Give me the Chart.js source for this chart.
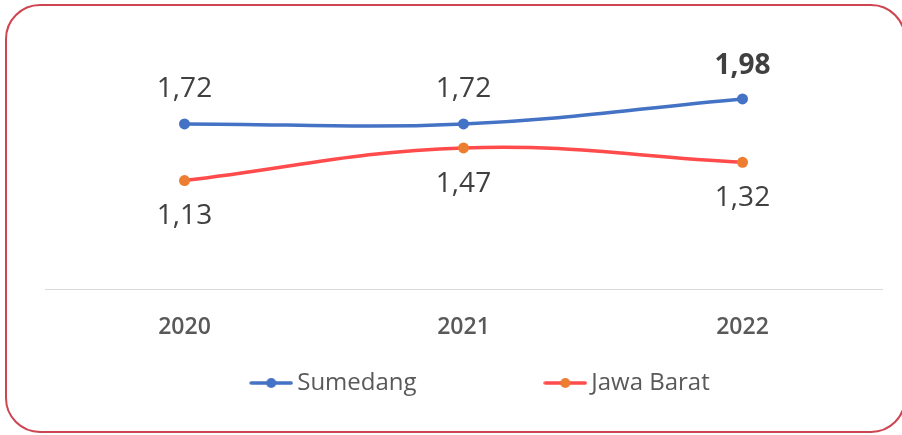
<!DOCTYPE html>
<html>
<head>
<meta charset="utf-8">
<script src="https://cdn.jsdelivr.net/npm/chart.js@4/dist/chart.umd.min.js"></script>
<style>
    html, body { margin: 0; padding: 0; background: #fff; overflow: hidden; }
    body { width: 902px; height: 435px; position: relative; }
    #frame {
        position: absolute; left: 5px; top: 4px;
        width: 901px; height: 429px; box-sizing: border-box;
        border: 2px solid #cf4451; border-radius: 35px;
    }
    #grafico { position: absolute; left: 0; top: 0; }
</style>
</head>
<body>
<div id="frame"></div>
<canvas id="grafico" width="902" height="435"></canvas>
<script>
// dados
const anos = ['2020', '2021', '2022'];
const series = ['Sumedang', 'Jawa Barat'];
const sumedang = [1.72, 1.72, 1.98];
const jawaBarat = [1.13, 1.47, 1.32];

const corAzul = '#4472c4';
const corVermelha = '#ff4b4b';
const corLaranja = '#ed7d31';
const fonte = '"Open Sans", "Noto Sans", sans-serif';

// marcador da legenda: linha com ponto no meio
function marcador(corLinha, corPonto) {
    const c = document.createElement('canvas');
    c.width = 44;
    c.height = 12;
    const g = c.getContext('2d');
    g.strokeStyle = corLinha;
    g.lineWidth = 3.5;
    g.lineCap = 'round';
    g.beginPath();
    g.moveTo(2, 6);
    g.lineTo(42, 6);
    g.stroke();
    g.fillStyle = corPonto;
    g.beginPath();
    g.arc(22, 6, 5, 0, Math.PI * 2);
    g.fill();
    return c;
}

// rótulos dos valores (acima para Sumedang, abaixo para Jawa Barat)
const rotulos = {
    id: 'rotulos',
    afterDatasetsDraw(chart) {
        const ctx = chart.ctx;
        ctx.save();
        ctx.textAlign = 'center';
        ctx.textBaseline = 'middle';
        ctx.fillStyle = '#404040';
        chart.data.datasets.forEach((ds, i) => {
            const meta = chart.getDatasetMeta(i);
            meta.data.forEach((p, j) => {
                const v = ds.data[j];
                const negrito = i === 0 && j === ds.data.length - 1;
                ctx.font = (negrito ? '700 ' : '400 ') + '28px ' + fonte;
                const dy = i === 0 ? (negrito ? -33 : -35) : 36;
                ctx.fillText(v.toFixed(2).replace('.', ','), p.x, p.y + dy);
            });
        });
        ctx.restore();
    }
};

// empurra a legenda um pouco para a direita
const ajusteLegenda = {
    id: 'ajusteLegenda',
    afterLayout(chart) {
        if (chart.legend) chart.legend.left += 40;
    }
};

const espaco = '\u00A0'.repeat(20);

new Chart(document.getElementById('grafico'), {
    type: 'line',
    data: {
        labels: anos,
        datasets: [{
            label: series[0],
            data: sumedang,
            borderColor: corAzul,
            backgroundColor: corAzul,
            pointBackgroundColor: corAzul,
            pointBorderWidth: 0,
            pointRadius: 5.5,
            borderWidth: 3.5,
            tension: 0.4
        }, {
            label: series[1],
            data: jawaBarat,
            borderColor: corVermelha,
            backgroundColor: corLaranja,
            pointBackgroundColor: corLaranja,
            pointBorderWidth: 0,
            pointRadius: 5.5,
            borderWidth: 3.5,
            tension: 0.4
        }]
    },
    options: {
        responsive: false,
        animation: false,
        layout: { padding: { left: 45, right: 20, top: 49, bottom: 30 } },
        scales: {
            x: {
                offset: true,
                grid: { display: false, drawTicks: false },
                border: { display: true, color: '#d9d9d9', width: 1 },
                ticks: { color: '#595959', padding: 25, font: { family: fonte, size: 23, weight: '600' } },
                afterFit(scale) { scale.height = 72; }
            },
            y: {
                display: false,
                min: 0,
                max: 2.5
            }
        },
        plugins: {
            legend: {
                position: 'bottom',
                labels: {
                    usePointStyle: true,
                    pointStyleWidth: 28,
                    padding: 10,
                    color: '#595959',
                    font: { family: fonte, size: 24 },
                    generateLabels(chart) {
                        return [
                            { text: series[0] + espaco, pointStyle: marcador(corAzul, corAzul), fontColor: '#595959', datasetIndex: 0, lineWidth: 0, strokeStyle: 'transparent', fillStyle: corAzul },
                            { text: series[1], pointStyle: marcador(corVermelha, corLaranja), fontColor: '#595959', datasetIndex: 1, lineWidth: 0, strokeStyle: 'transparent', fillStyle: corLaranja }
                        ];
                    }
                }
            },
            tooltip: { enabled: false }
        }
    },
    plugins: [rotulos, ajusteLegenda]
});
</script>
</body>
</html>
